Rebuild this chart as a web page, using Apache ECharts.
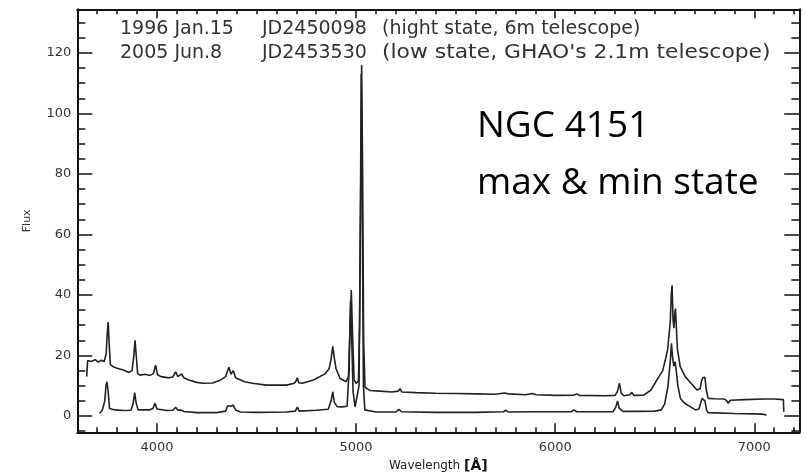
<!DOCTYPE html>
<html>
<head>
<meta charset="utf-8">
<script src="https://cdn.jsdelivr.net/npm/echarts@6.0.0/dist/echarts.min.js"></script>
<style>
html,body{margin:0;padding:0;background:#fff;}
#chart{width:805px;height:474px;}
</style>
</head>
<body>
<div id="chart"></div>
<script>
// High state (1996 Jan.15) spectrum: wavelength (Å) and flux
var highWave = [3647,3652,3670,3690,3705,3720,3735,3745,3750,3755,3760,3766,3780,3800,3830,3860,3875,3884,3890,3896,3903,3915,3940,3965,3982,3993,4003,4020,4060,4080,4094,4105,4115,4124,4135,4160,4200,4231,4280,4320,4345,4355,4362,4372,4383,4395,4440,4480,4550,4650,4690,4698,4705,4712,4730,4786,4844,4865,4875,4883,4891,4900,4920,4950,4962,4970,4976,4982,4990,5000,5012,5018,5024,5028,5033,5038,5045,5070,5120,5180,5212,5221,5230,5300,5400,5500,5600,5700,5745,5755,5765,5850,5885,5895,5905,6000,6095,6109,6120,6250,6300,6312,6323,6332,6345,6375,6385,6395,6444,6480,6511,6540,6553,6565,6570,6578,6583,6587,6592,6596,6601,6604,6608,6614,6628,6653,6680,6712,6728,6735,6741,6747,6752,6758,6768,6800,6850,6862,6869,6880,6950,7050,7100,7146,7148];
var highFlux = [13.0,18.3,18.0,18.6,17.8,18.4,18.0,20.5,27.0,31.0,24.0,17.0,16.3,15.8,15.2,14.4,15.0,20.0,25.0,20.0,14.0,13.5,13.8,13.4,14.0,16.8,13.6,13.0,12.6,12.9,14.6,13.0,13.2,13.9,12.6,11.9,11.1,10.8,10.9,11.9,13.0,15.0,16.1,13.8,15.0,12.6,11.3,10.8,10.2,10.2,10.8,11.5,12.6,11.0,10.8,11.9,13.9,15.7,19.0,23.0,19.0,15.5,12.4,11.3,13.0,30.0,41.6,28.0,12.0,10.8,11.5,30.0,80.0,116.0,80.0,25.0,9.5,8.4,8.2,7.9,8.2,9.0,7.9,7.7,7.5,7.4,7.3,7.2,7.6,8.0,7.3,7.0,7.4,7.8,7.0,6.8,6.9,7.3,6.8,6.7,6.8,8.0,10.8,7.5,6.7,7.0,7.8,6.8,6.9,8.5,11.9,15.0,18.5,22.0,25.6,31.0,40.0,43.2,32.0,29.0,34.0,35.5,30.0,22.0,16.3,13.0,11.0,8.6,9.0,11.5,12.6,12.2,12.8,9.0,5.8,5.7,5.6,5.0,4.2,5.2,5.4,5.6,5.6,5.4,1.4];

// Low state (2005 Jun.8) spectrum
var lowWave = [3712,3725,3738,3744,3749,3755,3762,3789,3830,3870,3880,3888,3895,3905,3960,3980,3990,4000,4050,4080,4094,4105,4118,4124,4135,4200,4300,4345,4355,4362,4372,4383,4395,4420,4500,4650,4695,4705,4715,4800,4860,4875,4883,4891,4905,4930,4955,4965,4972,4978,4985,4995,5005,5015,5022,5026,5031,5037,5044,5100,5200,5215,5228,5400,5600,5740,5752,5764,5880,5890,5900,6080,6095,6108,6290,6305,6313,6322,6340,6375,6385,6395,6500,6533,6550,6566,6578,6584,6590,6596,6602,6608,6616,6629,6650,6680,6704,6722,6732,6738,6745,6752,6760,6768,6900,7000,7040,7062];
var lowFlux = [0.9,1.8,5.0,10.0,11.3,8.0,2.5,2.0,1.8,1.9,4.0,7.7,4.5,2.0,2.0,2.5,4.2,2.3,1.8,1.9,2.9,1.9,2.0,2.6,1.5,1.1,1.1,1.6,3.4,4.0,3.2,3.6,2.0,1.3,1.2,1.3,1.6,2.9,1.6,1.9,2.2,5.0,8.0,4.5,3.1,3.0,3.2,15.0,38.0,26.0,8.0,3.0,3.2,10.0,70.0,113.0,70.0,10.0,2.0,1.3,1.3,2.2,1.4,1.2,1.2,1.4,1.9,1.3,1.4,2.0,1.4,1.4,2.0,1.4,1.4,3.0,5.0,2.5,1.5,1.5,2.0,1.5,1.6,2.0,4.0,9.7,18.0,24.0,19.0,16.5,17.9,15.0,10.0,5.8,4.2,3.0,2.0,2.3,4.5,5.8,5.6,5.0,2.0,1.1,0.8,0.7,0.6,0.3];

// Axis ticks
var majorX = [4000,5000,6000,7000];
var minorX = [3600,3700,3800,3900,4000,4100,4200,4300,4400,4500,4600,4700,4800,4900,5000,5100,5200,5300,5400,5500,5600,5700,5800,5900,6000,6100,6200,6300,6400,6500,6600,6700,6800,6900,7000,7100,7200];
var majorY = [0,20,40,60,80,100,120];
var minorY = [-5,0,5,10,15,20,25,30,35,40,45,50,55,60,65,70,75,80,85,90,95,100,105,110,115,120,125,130];

// Texts
var line1 = ['1996 Jan.15', 'JD2450098', '(hight state, 6m telescope)'];
var line2 = ['2005 Jun.8', 'JD2453530', "(low state, GHAO's 2.1m telescope)"];
var titleLines = ['NGC 4151', 'max & min state'];
var xName = 'Wavelength';
var xUnit = '[Å]';
var yName = 'Flux';

function pairs(w, f) { var out = []; for (var i = 0; i < w.length; i++) out.push([w[i], f[i]]); return out; }

var X_MIN = 3600, X_MAX = 7226, Y_MIN = -5.4, Y_MAX = 134.4;
var axisColor = '#111';
var labelFont = 'DejaVu Sans';
function plain(v) { return String(v); }

function xAx(pos, vals, len, showLine, showLabel) {
  return {
    type: 'value', position: pos, min: X_MIN, max: X_MAX,
    axisLine: { show: showLine, onZero: false, lineStyle: { color: axisColor, width: 2 } },
    axisTick: { show: true, inside: true, length: len, customValues: vals, lineStyle: { color: axisColor, width: 1.5 } },
    axisLabel: { show: showLabel, customValues: vals, formatter: plain, color: '#333', fontSize: 13, fontFamily: labelFont, margin: 9 },
    splitLine: { show: false }
  };
}
function yAx(pos, vals, len, showLine, showLabel) {
  return {
    type: 'value', position: pos, min: Y_MIN, max: Y_MAX,
    axisLine: { show: showLine, onZero: false, lineStyle: { color: axisColor, width: 2 } },
    axisTick: { show: true, inside: true, length: len, customValues: vals, lineStyle: { color: axisColor, width: 1.5 } },
    axisLabel: { show: showLabel, customValues: vals, formatter: plain, color: '#333', fontSize: 13, fontFamily: labelFont, margin: 6 },
    splitLine: { show: false }
  };
}

var xAxes = [xAx('bottom', majorX, 9, true, true), xAx('bottom', minorX, 5, false, false), xAx('top', majorX, 9, true, false), xAx('top', minorX, 5, false, false)];
xAxes[0].name = xName + ' {u|' + xUnit + '}';
xAxes[0].nameLocation = 'middle';
xAxes[0].nameGap = 26;
xAxes[0].nameTextStyle = { fontSize: 12, fontFamily: labelFont, color: '#222', rich: { u: { fontSize: 14, fontWeight: 'bold', fontFamily: labelFont, color: '#111' } } };

var yAxes = [yAx('left', majorY, 15, true, true), yAx('left', minorY, 8, false, false), yAx('right', majorY, 15, true, false), yAx('right', minorY, 8, false, false)];
yAxes[0].name = yName;
yAxes[0].nameLocation = 'middle';
yAxes[0].nameRotate = 90;
yAxes[0].nameGap = 45;
yAxes[0].nameTextStyle = { fontSize: 11, fontFamily: labelFont, color: '#333' };

function txt(t, x, y, size, family, color, sx) {
  return { type: 'text', x: x, y: y, scaleX: sx || 1, style: { text: t, fontSize: size, fontFamily: family, fill: color, verticalAlign: 'middle', align: 'left' }, z: 100 };
}

var chart = echarts.init(document.getElementById('chart'), null, { renderer: 'canvas' });
chart.setOption({
  animation: false,
  backgroundColor: '#fff',
  grid: { left: 77.3, right: 5.7, top: 9.3, bottom: 41.7, containLabel: false, outerBoundsMode: 'none' },
  xAxis: xAxes,
  yAxis: yAxes,
  series: [
    { name: 'high', type: 'line', xAxisIndex: 0, yAxisIndex: 0, showSymbol: false, symbol: 'none', data: pairs(highWave, highFlux), lineStyle: { color: '#222', width: 1.6 }, z: 3 },
    { name: 'low', type: 'line', xAxisIndex: 0, yAxisIndex: 0, showSymbol: false, symbol: 'none', data: pairs(lowWave, lowFlux), lineStyle: { color: '#222', width: 1.6 }, z: 3 }
  ],
  graphic: [
    txt(line1[0], 120, 29, 19, labelFont, '#333'),
    txt(line1[1], 262, 29, 19, labelFont, '#333'),
    txt(line1[2], 382, 29, 19, labelFont, '#333'),
    txt(line2[0], 120, 53, 19, labelFont, '#333'),
    txt(line2[1], 262, 53, 19, labelFont, '#333'),
    txt(line2[2], 382, 53, 19, labelFont, '#333', 1.15),
    txt(titleLines[0], 477, 126, 37, 'Open Sans', '#000'),
    txt(titleLines[1], 477, 183, 37, 'Open Sans', '#000')
  ]
});
</script>
</body>
</html>
